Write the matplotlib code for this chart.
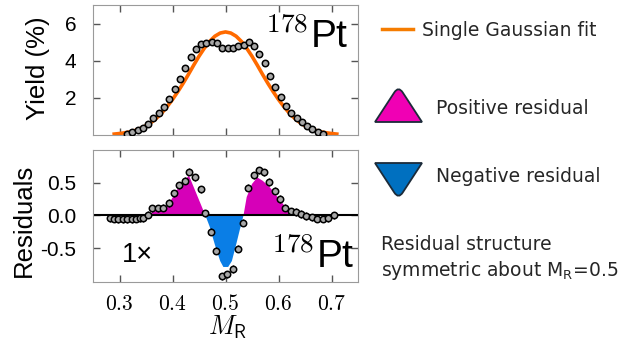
import numpy as np
import matplotlib
matplotlib.use('Agg')
import matplotlib.pyplot as plt
from matplotlib.path import Path
from matplotlib.patches import PathPatch
from matplotlib.lines import Line2D

plt.rcParams['font.family'] = ['DejaVu Sans']
plt.rcParams['mathtext.fontset'] = 'cm'

# Datos -----------------------------------------------------------------------

xticks = [0.3, 0.4, 0.5, 0.6, 0.7]
xtick_labels = ['0.3', '0.4', '0.5', '0.6', '0.7']
yticks_top = [2, 4, 6]
ytick_labels_top = ['2', '4', '6']
yticks_bot = [-0.5, 0.0, 0.5]
ytick_labels_bot = ['-0.5', '0.0', '0.5']

# rendimiento medido (%)
yield_x = [0.314, 0.324, 0.334, 0.344, 0.354, 0.364, 0.374, 0.384, 0.394, 0.404,
           0.414, 0.424, 0.434, 0.444, 0.454, 0.464, 0.474, 0.484, 0.494, 0.504,
           0.514, 0.524, 0.534, 0.544, 0.554, 0.564, 0.574, 0.584, 0.594, 0.604,
           0.614, 0.624, 0.634, 0.644, 0.654, 0.664, 0.674, 0.684]
yield_y = [0.04, 0.14, 0.25, 0.40, 0.59, 0.90, 1.17, 1.50, 1.93, 2.47,
           3.04, 3.60, 4.22, 4.63, 4.90, 4.95, 4.99, 4.94, 4.67, 4.67,
           4.67, 4.77, 4.86, 5.03, 4.77, 4.38, 3.87, 3.19, 2.61, 2.07,
           1.57, 1.17, 0.94, 0.68, 0.49, 0.32, 0.18, 0.07]

# ajuste gaussiano simple
fit_x = [0.29, 0.30, 0.31, 0.32, 0.33, 0.34, 0.35, 0.36, 0.37, 0.38, 0.39,
         0.40, 0.41, 0.42, 0.43, 0.44, 0.45, 0.46, 0.47, 0.48, 0.49, 0.50,
         0.51, 0.52, 0.53, 0.54, 0.55, 0.56, 0.57, 0.58, 0.59, 0.60, 0.61,
         0.62, 0.63, 0.64, 0.65, 0.66, 0.67, 0.68, 0.69, 0.70, 0.71]
fit_y = [0.05, 0.08, 0.12, 0.17, 0.25, 0.36, 0.50, 0.68, 0.91, 1.19, 1.53,
         1.91, 2.33, 2.78, 3.26, 3.76, 4.24, 4.67, 5.04, 5.32, 5.49, 5.55,
         5.49, 5.32, 5.04, 4.67, 4.24, 3.76, 3.26, 2.78, 2.33, 1.91, 1.53,
         1.19, 0.91, 0.68, 0.50, 0.36, 0.25, 0.17, 0.12, 0.08, 0.05]

# residuos
res_x = [0.282, 0.290, 0.298, 0.306, 0.314, 0.323, 0.331, 0.338, 0.345, 0.353,
         0.362, 0.372, 0.382, 0.393, 0.403, 0.412, 0.423, 0.432, 0.443, 0.453,
         0.462, 0.472, 0.483, 0.493, 0.503, 0.514, 0.523, 0.533, 0.542, 0.553,
         0.563, 0.573, 0.583, 0.594, 0.603, 0.613, 0.624, 0.633, 0.643, 0.652,
         0.663, 0.673, 0.684, 0.694, 0.704]
res_y = [-0.04, -0.05, -0.06, -0.06, -0.06, -0.06, -0.05, -0.04, -0.04, 0.01,
         0.11, 0.11, 0.12, 0.19, 0.34, 0.46, 0.53, 0.67, 0.58, 0.40,
         0.03, -0.25, -0.54, -0.93, -0.90, -0.82, -0.51, -0.11, 0.42, 0.61,
         0.69, 0.66, 0.51, 0.38, 0.25, 0.12, 0.06, 0.05, 0.02, -0.01,
         -0.03, -0.05, -0.05, -0.04, 0.00]

# contorno suavizado de las zonas rellenas
fill_x = [0.356, 0.362, 0.38, 0.39, 0.40, 0.41, 0.42, 0.431, 0.462, 0.47,
          0.48, 0.49, 0.496, 0.505, 0.512, 0.52, 0.527, 0.534, 0.54, 0.55,
          0.56, 0.57, 0.58, 0.59, 0.60, 0.61, 0.62, 0.63, 0.645, 0.66]
fill_y = [0.0, 0.05, 0.09, 0.14, 0.27, 0.41, 0.51, 0.61, 0.0, -0.17,
          -0.45, -0.70, -0.79, -0.79, -0.70, -0.45, -0.22, 0.0, 0.28, 0.48,
          0.58, 0.53, 0.46, 0.37, 0.26, 0.16, 0.08, 0.05, 0.02, 0.0]

# Figura ----------------------------------------------------------------------

W, H = 628, 344
fig = plt.figure(figsize=(W / 100, H / 100), dpi=100)


def fx(px):
    return px / W


def fy(py):
    return 1 - py / H


ax1 = fig.add_axes([fx(93), fy(135), 265 / W, 130 / H])
ax2 = fig.add_axes([fx(93), fy(282), 265 / W, 132 / H])

for ax in (ax1, ax2):
    ax.set_xlim(0.25, 0.75)
    ax.set_xticks(xticks)
    ax.tick_params(direction='in', top=True, right=True, length=5, width=1,
                   color='#555555')
    for s in ax.spines.values():
        s.set_color('#9a9a9a')

ax1.tick_params(labelbottom=False, pad=12)
ax1.set_ylim(0, 7)
ax1.set_yticks(yticks_top)
ax1.set_yticklabels(ytick_labels_top, fontsize=15, family='Liberation Sans')

ax1.plot(fit_x, fit_y, color='#ff6a00', lw=2.6, zorder=2)
ax1.errorbar(yield_x, yield_y, yerr=0.08, fmt='o', ms=4.6, mfc='#a8a8a8',
             mec='black', mew=1.1, ecolor='black', elinewidth=1, capsize=0,
             zorder=3)

fy_arr = np.array(fill_y)
ax2.fill_between(fill_x, fill_y, 0, where=fy_arr >= 0, interpolate=True,
                 color='#d600b8', lw=0, zorder=1)
ax2.fill_between(fill_x, fill_y, 0, where=fy_arr <= 0, interpolate=True,
                 color='#0a7ee6', lw=0, zorder=1)
ax2.axhline(0, color='black', lw=1.5, zorder=2)
ax2.errorbar(res_x, res_y, yerr=0.055, fmt='o', ms=4.6, mfc='#a8a8a8',
             mec='black', mew=1.1, ecolor='black', elinewidth=1, capsize=0,
             zorder=3)
ax2.set_ylim(-1.02, 1.0)
ax2.set_yticks(yticks_bot)
ax2.set_yticklabels(ytick_labels_bot, fontsize=15, family='Liberation Sans')
ax2.set_xticklabels(['$' + t + '$' for t in xtick_labels], fontsize=15.5)
ax2.tick_params(axis='y', pad=12)
ax2.tick_params(axis='x', pad=9)

# etiquetas
fig.text(fx(38), fy(68), 'Yield (%)', rotation=90, fontsize=18.5,
         family='Liberation Sans', ha='center', va='center')
fig.text(fx(24), fy(220), 'Residuals', rotation=90, fontsize=18.5,
         family='Liberation Sans', ha='center', va='center')
fig.text(fx(228), fy(327), r'$M_{\mathsf{R}}$', fontsize=19,
         ha='center', va='center')

fig.text(fx(265), fy(48), r'$^{178}$Pt', fontsize=28,
         family='Liberation Sans', ha='left', va='baseline')
fig.text(fx(271), fy(268), r'$^{178}$Pt', fontsize=28,
         family='Liberation Sans', ha='left', va='baseline')
fig.text(fx(122), fy(262), '1×', fontsize=19.5,
         family='Liberation Sans', ha='left', va='baseline')

# leyenda a la derecha
txt = '#262626'
fig.add_artist(Line2D([fx(382), fx(413)], [fy(29), fy(29)], color='#f57c00',
                      lw=2.5, transform=fig.transFigure))
fig.text(fx(422), fy(30), 'Single Gaussian fit', fontsize=13.5,
         va='center', color=txt)


def triangulo(x0, x1, yb, ya, color):
    xm = (x0 + x1) / 2
    t = 0.82
    p1 = (x0 + (xm - x0) * t, yb + (ya - yb) * t)
    p2 = (x1 - (x1 - xm) * t, yb + (ya - yb) * t)
    verts = [(x0, yb), p1, (xm, ya), p2, (x1, yb), (x0, yb)]
    verts = [(fx(a), fy(b)) for a, b in verts]
    codes = [Path.MOVETO, Path.LINETO, Path.CURVE3, Path.CURVE3,
             Path.LINETO, Path.CLOSEPOLY]
    patch = PathPatch(Path(verts, codes), facecolor=color,
                      edgecolor='#1c2b39', lw=1.3,
                      transform=fig.transFigure)
    fig.add_artist(patch)


triangulo(375, 422, 122, 86, '#f000b4')
triangulo(375, 422, 163, 199, '#0070c0')

fig.text(fx(436), fy(108), 'Positive residual', fontsize=13.5,
         va='center', color=txt)
fig.text(fx(436), fy(176), 'Negative residual', fontsize=13.5,
         va='center', color=txt)
fig.text(fx(381), fy(245), 'Residual structure', fontsize=13.5,
         va='center', color=txt)
fig.text(fx(381), fy(270), r'symmetric about M$_{\rm R}$=0.5', fontsize=13.5,
         va='center', color=txt, math_fontfamily='dejavusans')

fig.savefig('out.png', dpi=100)
